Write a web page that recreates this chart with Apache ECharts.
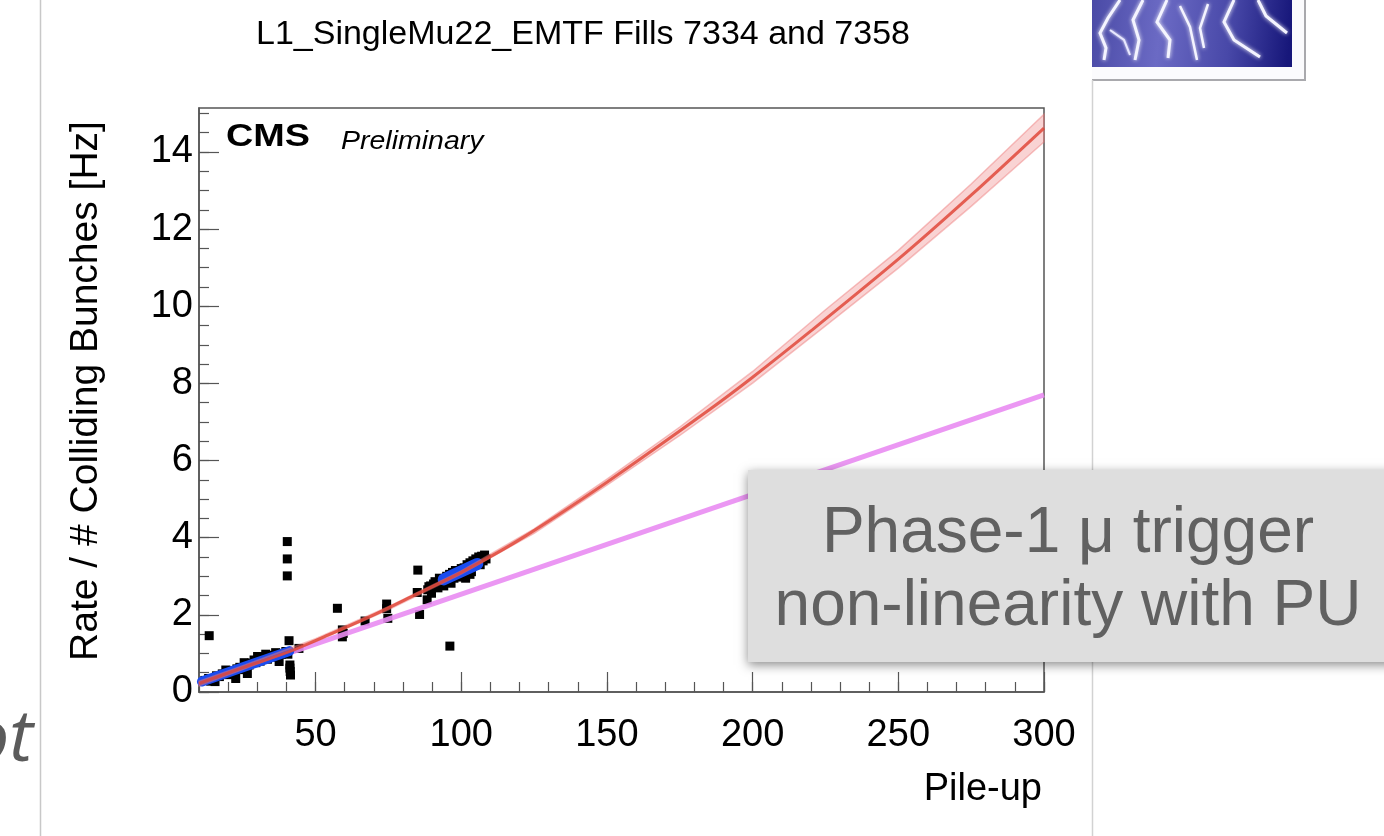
<!DOCTYPE html>
<html>
<head>
<meta charset="utf-8">
<script src="https://cdn.jsdelivr.net/npm/echarts@6/dist/echarts.min.js"></script>
<style>
  html, body { margin: 0; padding: 0; background: #ffffff; }
  #chart { width: 1384px; height: 836px; }
</style>
</head>
<body>
<div id="chart"></div>
<script>
const FONT = '"Liberation Sans", Helvetica, Arial, sans-serif';

// tick labels
const xTickLabels = [50, 100, 150, 200, 250, 300];
const yTickLabels = [0, 2, 4, 6, 8, 10, 12, 14];

// measured rate per colliding bunch (black markers), fills 7334 and 7358
const pointPU = [
  12, 13.3, 14, 15.5, 16, 17, 18, 19.2, 19.8, 20.5, 21.5, 22.6, 23, 24, 24.8, 25.5, 26.6, 27.2, 28,
  28.9, 29.5, 30.1, 31, 31.8, 32.9, 33.5, 34.3, 35.2, 36.3, 37, 37.5, 38.3, 39, 39.8, 40.5,
  13.5, 40.3, 40.3, 40.3, 40.9, 41.2, 41.2, 41.3, 41.4, 44.3,
  57.5, 59.2, 59.2, 59.5, 67, 74.4, 74.4, 74.8, 85.1, 84.9, 85.7, 88.3, 89.8, 88.9, 96.1,
  88.5, 89.5, 90.5, 91, 92, 92.5, 93.5, 94, 95, 95.5, 96, 96.5, 97, 97.5, 98, 98.5, 99, 99.5,
  100, 100.5, 101, 101.5, 102, 102.5, 103, 103.5, 104, 104.5, 105, 105.5, 106, 106.5, 107,
  107.5, 108, 108.5, 103, 101.5
];
const pointRate = [
  0.30, 0.35, 0.28, 0.27, 0.42, 0.40, 0.47, 0.57, 0.45, 0.52, 0.55, 0.35, 0.60, 0.64, 0.58, 0.76, 0.48, 0.70, 0.75,
  0.83, 0.76, 0.92, 0.80, 0.88, 0.98, 0.85, 0.92, 0.95, 1.02, 0.90, 0.79, 0.98, 1.00, 1.05, 0.98,
  1.46, 3.90, 3.45, 3.01, 1.33, 0.70, 0.62, 0.53, 0.44, 1.13,
  2.17, 1.61, 1.43, 1.52, 1.84, 2.28, 2.16, 1.91, 3.16, 2.58, 2.01, 2.39, 2.56, 2.73, 1.19,
  2.65, 2.75, 2.80, 2.86, 2.70, 2.95, 2.85, 2.75, 3.00, 2.90, 3.05, 2.82, 3.10, 2.95, 3.15, 3.05, 3.12, 2.98,
  3.20, 3.10, 3.22, 3.00, 3.30, 3.20, 3.35, 3.12, 3.40, 3.28, 3.45, 3.35, 3.50, 3.30, 3.52,
  3.40, 3.55, 3.45, 3.05, 2.95
];

// combined fit (red) and its uncertainty band
const fitPU = [10, 25, 40, 55, 70, 85, 100, 120, 150, 185, 200, 220, 250, 275, 300];
const fitRate = [0.22, 0.63, 1.02, 1.5, 2.0, 2.55, 3.1, 3.95, 5.44, 7.31, 8.16, 9.36, 11.22, 12.88, 14.62];
const bandPU = [10, 25, 50, 75, 100, 125, 150, 175, 200, 225, 250, 275, 300];
const bandLow = [0.16, 0.58, 1.30, 2.13, 3.06, 4.11, 5.36, 6.65, 8.01, 9.49, 10.99, 12.59, 14.26];
const bandHigh = [0.28, 0.68, 1.38, 2.21, 3.14, 4.23, 5.52, 6.87, 8.31, 9.91, 11.45, 13.17, 14.98];

// linear extrapolation from low pile-up (magenta)
const linPU = [10, 300];
const linRate = [0.21, 7.70];

// per-fill fits (blue)
const lowFitPU = [11, 41];
const lowFitRate = [0.27, 1.06];
const highFitPU = [94, 105.5];
const highFitRate = [2.92, 3.32];

const pairs = (xs, ys) => xs.map((x, i) => [x, ys[i]]);

const axisColor = '#555555';
const chart = echarts.init(document.getElementById('chart'), null, { renderer: 'canvas' });

const option = {
  backgroundColor: '#ffffff',
  animation: false,
  title: {
    text: 'L1_SingleMu22_EMTF Fills 7334 and 7358',
    left: 251,
    top: 13,
    textStyle: { fontFamily: FONT, fontSize: 34, fontWeight: 'normal', color: '#000000' }
  },
  grid: {
    left: 199, right: 340, top: 108, bottom: 144,
    show: true, borderColor: axisColor, borderWidth: 1.5, backgroundColor: 'transparent'
  },
  xAxis: [
    {
      type: 'value', min: 10, max: 300, interval: 10, position: 'bottom',
      axisLine: { show: true, onZero: false, lineStyle: { color: axisColor, width: 1.5 } },
      axisTick: { show: true, inside: true, length: 10, lineStyle: { color: axisColor, width: 1.2 } },
      axisLabel: {
        formatter: v => (xTickLabels.includes(v) ? String(v) : ''),
        color: '#000000', fontFamily: FONT, fontSize: 38, margin: 25
      },
      splitLine: { show: false }
    },
    {
      type: 'value', min: 10, max: 300, position: 'bottom',
      axisLine: { show: false },
      axisTick: { show: true, inside: true, length: 20, customValues: xTickLabels,
        lineStyle: { color: axisColor, width: 1.2 } },
      axisLabel: { show: false },
      splitLine: { show: false },
      name: 'Pile-up',
      nameLocation: 'end',
      nameGap: 0,
      nameTextStyle: {
        fontFamily: FONT, fontSize: 38, color: '#000000',
        align: 'right', verticalAlign: 'top', padding: [79, 2, 0, 0]
      }
    }
  ],
  yAxis: [
    {
      type: 'value', min: 0, max: 15.14, interval: 0.5, position: 'left',
      axisLine: { show: true, onZero: false, lineStyle: { color: axisColor, width: 1.5 } },
      axisTick: { show: true, inside: true, length: 10, lineStyle: { color: axisColor, width: 1.2 } },
      axisLabel: {
        formatter: v => (yTickLabels.includes(v) ? String(v) : ''),
        showMaxLabel: false,
        color: '#000000', fontFamily: FONT, fontSize: 38, margin: 6
      },
      splitLine: { show: false },
      name: 'Rate / # Colliding Bunches [Hz]',
      nameLocation: 'middle',
      nameGap: 93,
      nameRotate: 90,
      nameTextStyle: { fontFamily: FONT, fontSize: 39, color: '#000000', padding: [0, 0, 0, 18] }
    },
    {
      type: 'value', min: 0, max: 15.14, position: 'left',
      axisLine: { show: false },
      axisTick: { show: true, inside: true, length: 20, customValues: yTickLabels,
        lineStyle: { color: axisColor, width: 1.2 } },
      axisLabel: { show: false },
      splitLine: { show: false }
    }
  ],
  series: [
    {
      name: 'Data', type: 'scatter', xAxisIndex: 0, yAxisIndex: 0,
      data: pairs(pointPU, pointRate),
      symbol: 'rect', symbolSize: 9,
      itemStyle: { color: '#000000', opacity: 1 }, z: 2, silent: true
    },
    {
      name: 'Linear', type: 'line', xAxisIndex: 0, yAxisIndex: 0,
      data: pairs(linPU, linRate),
      showSymbol: false, symbol: 'none',
      lineStyle: { color: '#e98cf2', width: 5, opacity: 0.9 }, z: 3, silent: true
    },
    {
      name: 'Fill fit low', type: 'line', xAxisIndex: 0, yAxisIndex: 0,
      data: pairs(lowFitPU, lowFitRate),
      showSymbol: false, symbol: 'none',
      lineStyle: { color: '#1a4cf0', width: 10, cap: 'round' }, z: 4, silent: true
    },
    {
      name: 'Fill fit high', type: 'line', xAxisIndex: 0, yAxisIndex: 0,
      data: pairs(highFitPU, highFitRate),
      showSymbol: false, symbol: 'none',
      lineStyle: { color: '#1a4cf0', width: 12, cap: 'round' }, z: 4, silent: true
    },
    {
      name: 'Fit band', type: 'custom', xAxisIndex: 0, yAxisIndex: 0,
      data: [0], z: 5, silent: true,
      renderItem: function (params, api) {
        const pts = [];
        for (let i = 0; i < bandPU.length; i++) pts.push(api.coord([bandPU[i], bandHigh[i]]));
        for (let i = bandPU.length - 1; i >= 0; i--) pts.push(api.coord([bandPU[i], bandLow[i]]));
        return {
          type: 'polygon',
          shape: { points: pts },
          style: { fill: 'rgba(238,120,120,0.33)', stroke: 'rgba(238,120,120,0.45)', lineWidth: 1.5 }
        };
      }
    },
    {
      name: 'Fit', type: 'line', xAxisIndex: 0, yAxisIndex: 0,
      data: pairs(fitPU, fitRate),
      smooth: 0.3, showSymbol: false, symbol: 'none',
      lineStyle: { color: '#e0483a', width: 3, opacity: 0.85 }, z: 6, silent: true
    }
  ],
  graphic: [
    // page rules
    { type: 'line', shape: { x1: 40.5, y1: 0, x2: 40.5, y2: 836 }, style: { stroke: '#c8c8c8', lineWidth: 1.5 }, z: 1 },
    { type: 'line', shape: { x1: 1092.5, y1: 80, x2: 1092.5, y2: 836 }, style: { stroke: '#d2d2d2', lineWidth: 1.5 }, z: 1 },
    // partial heading letters at the left edge
    {
      type: 'text', x: 33, y: 740, z: 1,
      style: { text: 'ot', font: 'italic 72px "Open Sans", "DejaVu Sans", sans-serif', fill: '#5b5b5b',
        align: 'right', verticalAlign: 'middle' }
    },
    // logo in the top-right corner
    {
      type: 'group', z: 1,
      children: [
        { type: 'rect', shape: { x: 1092, y: -2, width: 214, height: 83 }, style: { fill: '#a9a9ad' } },
        { type: 'rect', shape: { x: 1092, y: -2, width: 212, height: 81 }, style: { fill: '#fbfbfd' } },
        {
          type: 'rect', shape: { x: 1092, y: -2, width: 200, height: 69 },
          style: {
            fill: {
              type: 'linear', x: 0, y: 0, x2: 1, y2: 0.3,
              colorStops: [
                { offset: 0, color: '#4a4aa6' },
                { offset: 0.35, color: '#6b6ac4' },
                { offset: 0.7, color: '#4848a8' },
                { offset: 1, color: '#17177a' }
              ]
            }
          }
        },
        { type: 'polyline', shape: { points: [[1120, 0], [1108, 18], [1100, 33], [1106, 48], [1104, 60]] },
          style: { stroke: '#f4f4ff', lineWidth: 3, fill: null, shadowBlur: 4, shadowColor: '#ffffff' } },
        { type: 'polyline', shape: { points: [[1143, 0], [1133, 20], [1139, 40], [1135, 60]] },
          style: { stroke: '#f4f4ff', lineWidth: 3, fill: null, shadowBlur: 4, shadowColor: '#ffffff' } },
        { type: 'polyline', shape: { points: [[1167, 0], [1157, 22], [1170, 40], [1168, 58]] },
          style: { stroke: '#f4f4ff', lineWidth: 3, fill: null, shadowBlur: 4, shadowColor: '#ffffff' } },
        { type: 'polyline', shape: { points: [[1180, 6], [1190, 27], [1197, 60]] },
          style: { stroke: '#f4f4ff', lineWidth: 2.5, fill: null, shadowBlur: 4, shadowColor: '#ffffff' } },
        { type: 'polyline', shape: { points: [[1208, 4], [1200, 28], [1204, 48]] },
          style: { stroke: '#f4f4ff', lineWidth: 2.5, fill: null, shadowBlur: 4, shadowColor: '#ffffff' } },
        { type: 'polyline', shape: { points: [[1234, 0], [1224, 22], [1234, 40], [1260, 57]] },
          style: { stroke: '#f4f4ff', lineWidth: 3, fill: null, shadowBlur: 4, shadowColor: '#ffffff' } },
        { type: 'polyline', shape: { points: [[1258, 0], [1266, 16], [1287, 33]] },
          style: { stroke: '#f4f4ff', lineWidth: 3, fill: null, shadowBlur: 4, shadowColor: '#ffffff' } },
        { type: 'polyline', shape: { points: [[1110, 30], [1124, 40], [1130, 55]] },
          style: { stroke: '#e8e8ff', lineWidth: 2, fill: null, shadowBlur: 3, shadowColor: '#ffffff' } }
      ]
    },
    // experiment label
    {
      type: 'text', x: 226, y: 137, scaleX: 1.22, z: 20,
      style: { text: 'CMS', font: 'bold 31px "Liberation Sans", Helvetica, Arial, sans-serif', fill: '#000000',
        align: 'left', verticalAlign: 'middle' }
    },
    {
      type: 'text', x: 341, y: 142, scaleX: 1.14, z: 20,
      style: { text: 'Preliminary', font: 'italic 25px "Liberation Sans", Helvetica, Arial, sans-serif', fill: '#000000',
        align: 'left', verticalAlign: 'middle' }
    },
    // callout
    {
      type: 'rect', z: 50,
      shape: { x: 748, y: 470, width: 700, height: 192 },
      style: { fill: '#dedede', shadowBlur: 10, shadowOffsetY: 3, shadowColor: 'rgba(0,0,0,0.45)' }
    },
    {
      type: 'text', x: 1068, y: 571, z: 51,
      style: {
        text: 'Phase-1 μ trigger\nnon-linearity with PU',
        font: '64px "Liberation Sans", Helvetica, Arial, sans-serif',
        lineHeight: 73, fill: '#616161', align: 'center', verticalAlign: 'middle'
      }
    }
  ]
};

chart.setOption(option);
</script>
</body>
</html>
